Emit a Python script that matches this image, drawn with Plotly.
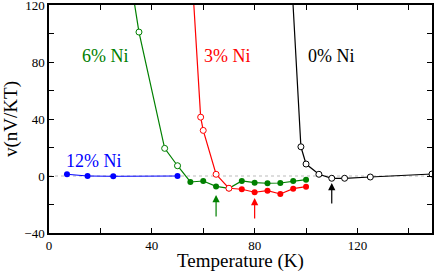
import plotly.graph_objects as go

# 12% Ni
t12 = [7, 15, 25, 50]
v12 = [1.2, 0.0, -0.2, 0.0]

# 6% Ni (open: high-T region above transition, filled: below)
t6_open = [30, 35, 45, 50]
v6_open = [158, 101, 19.4, 7.2]
t6_fill = [50, 55, 60, 65, 70, 75, 80, 85, 90, 95, 100]
v6_fill = [7.2, -4.2, -3.5, -7.3, -8.6, -3.5, -4.7, -5.1, -4.9, -3.5, -2.6]

# 3% Ni
t3_open = [55, 59, 60, 65, 70]
v3_open = [160, 41.3, 32.0, 1.2, -8.6]
t3_fill = [70, 75, 80, 85, 90, 95, 100]
v3_fill = [-8.6, -9.3, -11.4, -10.3, -12.6, -8.9, -7.5]

# 0% Ni
t0 = [94, 98, 100, 105, 110, 115, 125, 149]
v0 = [151, 20.5, 8.4, 1.2, -1.6, -1.6, -0.7, 1.4]

# arrows: (T, tail v, tip v, colour)
arrow_t = [65, 80, 110]
arrow_tail = [-29.4, -30.8, -20.4]
arrow_tip = [-13.3, -15.4, -4.9]
arrow_col = ["green", "red", "black"]

labels = ["6% Ni", "3% Ni", "0% Ni", "12% Ni"]
label_t = [21.8, 69.4, 109.8, 17.5]
label_v = [84, 84, 84, 10.5]
label_col = ["green", "red", "black", "blue"]

GREEN = "#008000"
RED = "#ff0000"
BLUE = "#0000ff"
col_map = {"green": GREEN, "red": RED, "black": "black", "blue": BLUE}
SERIF = "Liberation Serif"

fig = go.Figure()

# zero reference line
fig.add_trace(go.Scatter(x=[0, 149], y=[0, 0], mode="lines",
                         line=dict(color="#bbbbbb", width=1, dash="dot"),
                         hoverinfo="skip", showlegend=False))

ms = 6
# 12%
fig.add_trace(go.Scatter(x=t12, y=v12, mode="lines+markers",
                         line=dict(color=BLUE, width=1),
                         marker=dict(color=BLUE, size=ms), showlegend=False))
# 6%
fig.add_trace(go.Scatter(x=t6_fill, y=v6_fill, mode="lines+markers",
                         line=dict(color=GREEN, width=1.2),
                         marker=dict(color=GREEN, size=ms), showlegend=False))
fig.add_trace(go.Scatter(x=t6_open, y=v6_open, mode="lines+markers",
                         line=dict(color=GREEN, width=1.2),
                         marker=dict(color="white", size=ms, line=dict(color=GREEN, width=1)),
                         showlegend=False))
# 3%
fig.add_trace(go.Scatter(x=t3_fill, y=v3_fill, mode="lines+markers",
                         line=dict(color=RED, width=1.2),
                         marker=dict(color=RED, size=ms), showlegend=False))
fig.add_trace(go.Scatter(x=t3_open, y=v3_open, mode="lines+markers",
                         line=dict(color=RED, width=1.2),
                         marker=dict(color="white", size=ms, line=dict(color=RED, width=1)),
                         showlegend=False))
# 0%
fig.add_trace(go.Scatter(x=t0, y=v0, mode="lines+markers",
                         line=dict(color="black", width=1.2),
                         marker=dict(color="white", size=ms, line=dict(color="black", width=1)),
                         showlegend=False))

for t, a, b, c in zip(arrow_t, arrow_tail, arrow_tip, arrow_col):
    fig.add_annotation(x=t, y=b, ax=t, ay=a, xref="x", yref="y", axref="x", ayref="y",
                       showarrow=True, arrowhead=2, arrowsize=1.2, arrowwidth=1.2,
                       arrowcolor=col_map[c], text="")

for s, t, v, c in zip(labels, label_t, label_v, label_col):
    fig.add_annotation(x=t, y=v, text=s, showarrow=False, xref="x", yref="y",
                       font=dict(family=SERIF, size=18, color=col_map[c]))

axis_common = dict(showline=True, linecolor="black", linewidth=1.5, mirror="ticks",
                   ticks="inside", ticklen=5, tickwidth=1, tickcolor="black",
                   showgrid=False, zeroline=False, automargin=False,
                   ticklabeloverflow="allow",
                   tickfont=dict(family=SERIF, size=13, color="black"))

fig.update_xaxes(range=[0, 149], dtick=40, tick0=0,
                 minor=dict(dtick=20, ticks="inside", ticklen=5, tickcolor="black"),
                 title=dict(text="Temperature (K)", standoff=5,
                            font=dict(family=SERIF, size=19, color="black")),
                 **axis_common)
fig.update_yaxes(range=[-40, 120], dtick=40, tick0=0,
                 minor=dict(dtick=20, ticks="inside", ticklen=5, tickcolor="black"),
                 title=dict(text="v(nV/KT)", standoff=2,
                            font=dict(family=SERIF, size=19, color="black")),
                 **axis_common)

fig.update_layout(width=435, height=272, margin=dict(l=49, r=3, t=5, b=39),
                  plot_bgcolor="white", paper_bgcolor="white", showlegend=False,
                  font=dict(family=SERIF))

fig.write_html("out.html", config={"displayModeBar": False},
               post_script="document.body.style.margin='0';")
